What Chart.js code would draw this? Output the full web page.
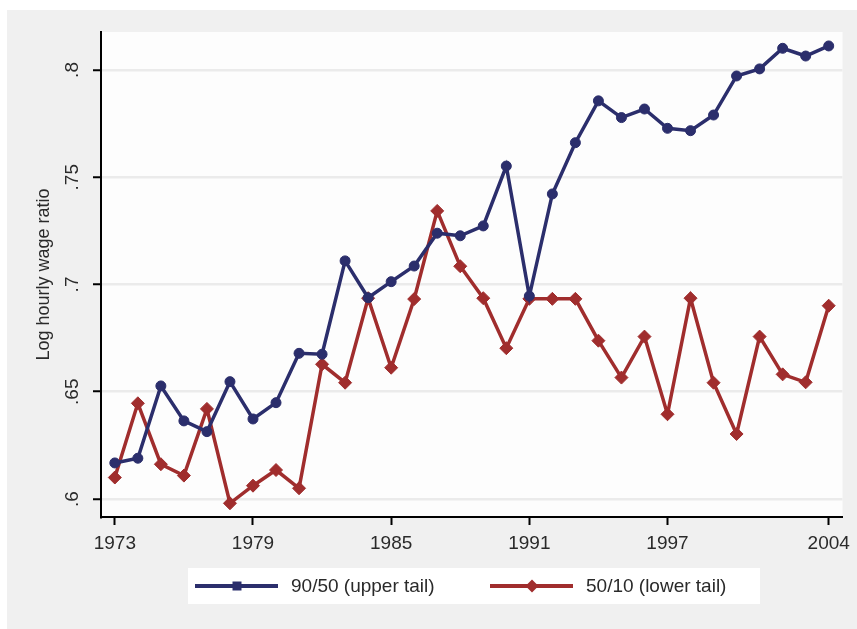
<!DOCTYPE html>
<html>
<head>
<meta charset="utf-8">
<script src="https://cdn.jsdelivr.net/npm/chart.js@4.4.1/dist/chart.umd.min.js"></script>
<style>
  html, body { margin: 0; padding: 0; background: #fff; }
  #wrap { position: absolute; left: 7px; top: 10px; width: 850px; height: 619px; background: #f0f0f0; }
</style>
</head>
<body>
<div id="wrap"><canvas id="wageChart" width="850" height="619"></canvas></div>
<script>
// data
const years = [1973, 1974, 1975, 1976, 1977, 1978, 1979, 1980, 1981, 1982, 1983, 1984, 1985, 1986, 1987, 1988,
               1989, 1990, 1991, 1992, 1993, 1994, 1995, 1996, 1997, 1998, 1999, 2000, 2001, 2002, 2003, 2004];
const upperTail = [0.6168, 0.6190, 0.6527, 0.6364, 0.6314, 0.6547, 0.6373, 0.6449, 0.6679, 0.6675, 0.7110, 0.6938,
                   0.7013, 0.7086, 0.7239, 0.7227, 0.7273, 0.7552, 0.6946, 0.7422, 0.7661, 0.7856, 0.7778, 0.7818,
                   0.7728, 0.7717, 0.7790, 0.7972, 0.8005, 0.8101, 0.8065, 0.8112];
const lowerTail = [0.6100, 0.6446, 0.6162, 0.6109, 0.6420, 0.5980, 0.6062, 0.6135, 0.6050, 0.6628, 0.6542, 0.6936,
                   0.6612, 0.6932, 0.7343, 0.7085, 0.6936, 0.6703, 0.6933, 0.6933, 0.6933, 0.6738, 0.6566, 0.6757,
                   0.6395, 0.6936, 0.6542, 0.6303, 0.6757, 0.6581, 0.6544, 0.6901];
const seriesLabels = ['90/50 (upper tail)', '50/10 (lower tail)'];
const xTicks = [1973, 1979, 1985, 1991, 1997, 2004];
const yTicks = [0.6, 0.65, 0.7, 0.75, 0.8];
const yTickLabels = ['.6', '.65', '.7', '.75', '.8'];
const yTitle = 'Log hourly wage ratio';

const fontFamily = "'Liberation Sans Narrow', 'Liberation Sans', Arial, sans-serif";
const blue = '#2b2e6c';
const red = '#a02d2d';

// white plot region
const plotBackground = {
    id: 'plotBackground',
    beforeDraw(chart) {
        const { ctx, chartArea: a } = chart;
        ctx.save();
        ctx.fillStyle = '#fdfdfd';
        ctx.fillRect(a.left, a.top, a.right - a.left, a.bottom - a.top);
        ctx.restore();
    }
};

function drawMarker(ctx, style, x, y, r) {
    ctx.beginPath();
    if (style === 'rectRot') {
        ctx.moveTo(x, y - r);
        ctx.lineTo(x + r, y);
        ctx.lineTo(x, y + r);
        ctx.lineTo(x - r, y);
        ctx.closePath();
    } else {
        ctx.rect(x - r, y - r, r * 2, r * 2);
    }
    ctx.fill();
}

// stata style legend: line sample with a marker in the middle, inside a white box
const lineLegend = {
    id: 'lineLegend',
    afterDraw(chart) {
        const ctx = chart.ctx;
        const a = chart.chartArea;
        const boxLeft = a.left + 87;
        const boxTop = a.bottom + 51;
        ctx.save();
        ctx.fillStyle = '#ffffff';
        ctx.fillRect(boxLeft, boxTop, 572, 36);
        const starts = [7, 302];
        const markers = [['rect', 4.5], ['rectRot', 6.5]];
        chart.data.datasets.forEach((ds, i) => {
            const x0 = boxLeft + starts[i];
            const y = boxTop + 18;
            ctx.strokeStyle = ds.borderColor;
            ctx.lineWidth = 4;
            ctx.beginPath();
            ctx.moveTo(x0, y);
            ctx.lineTo(x0 + 83, y);
            ctx.stroke();
            ctx.fillStyle = ds.borderColor;
            drawMarker(ctx, markers[i][0], x0 + 42, y, markers[i][1]);
            ctx.fillStyle = '#2a2a2a';
            ctx.font = '19px ' + fontFamily;
            ctx.textBaseline = 'middle';
            ctx.fillText(ds.label, x0 + 96, y + 1);
        });
        ctx.restore();
    }
};

const context = document.getElementById('wageChart').getContext('2d');
new Chart(context, {
    type: 'line',
    data: {
        datasets: [{
            label: seriesLabels[0],
            data: years.map((yr, i) => ({ x: yr, y: upperTail[i] })),
            borderColor: blue,
            backgroundColor: blue,
            borderWidth: 3.5,
            pointStyle: 'circle',
            pointRadius: 5,
            pointBorderWidth: 1,
            lineTension: 0
        }, {
            label: seriesLabels[1],
            data: years.map((yr, i) => ({ x: yr, y: lowerTail[i] })),
            borderColor: red,
            backgroundColor: red,
            borderWidth: 3.5,
            pointStyle: 'rectRot',
            pointRadius: 6.5,
            pointBorderWidth: 1,
            lineTension: 0
        }]
    },
    options: {
        responsive: false,
        animation: false,
        layout: { padding: { top: 22, right: 9, left: 0, bottom: 0 } },
        plugins: {
            legend: { display: false },
            tooltip: { enabled: false }
        },
        scales: {
            x: {
                type: 'linear',
                min: 1972.4,
                max: 2004.6,
                afterBuildTicks: scale => { scale.ticks = xTicks.map(v => ({ value: v })); },
                afterFit: scale => { scale.height = 112; },
                grid: {
                    drawOnChartArea: false,
                    drawTicks: true,
                    tickLength: 8,
                    tickColor: '#000',
                    tickWidth: 2
                },
                border: { color: '#000', width: 2 },
                ticks: {
                    callback: v => String(v),
                    color: '#2a2a2a',
                    font: { family: fontFamily, size: 19 },
                    padding: 7,
                    maxRotation: 0
                }
            },
            y: {
                min: 0.5916,
                max: 0.8177,
                afterBuildTicks: scale => { scale.ticks = yTicks.map(v => ({ value: v })); },
                afterFit: scale => { scale.width = 94; },
                grid: {
                    color: '#ebebeb',
                    lineWidth: 2.5,
                    tickLength: 8,
                    tickColor: '#000',
                    tickWidth: 2
                },
                border: { color: '#000', width: 2 },
                ticks: {
                    callback: (v, i) => yTickLabels[i],
                    color: '#2a2a2a',
                    font: { family: fontFamily, size: 19 },
                    padding: 7,
                    minRotation: 90,
                    maxRotation: 90,
                    crossAlign: 'center'
                },
                title: {
                    display: true,
                    text: yTitle,
                    color: '#2a2a2a',
                    font: { family: fontFamily, size: 18 },
                    padding: { top: 26, bottom: 0 }
                }
            }
        }
    },
    plugins: [plotBackground, lineLegend]
});
</script>
</body>
</html>
